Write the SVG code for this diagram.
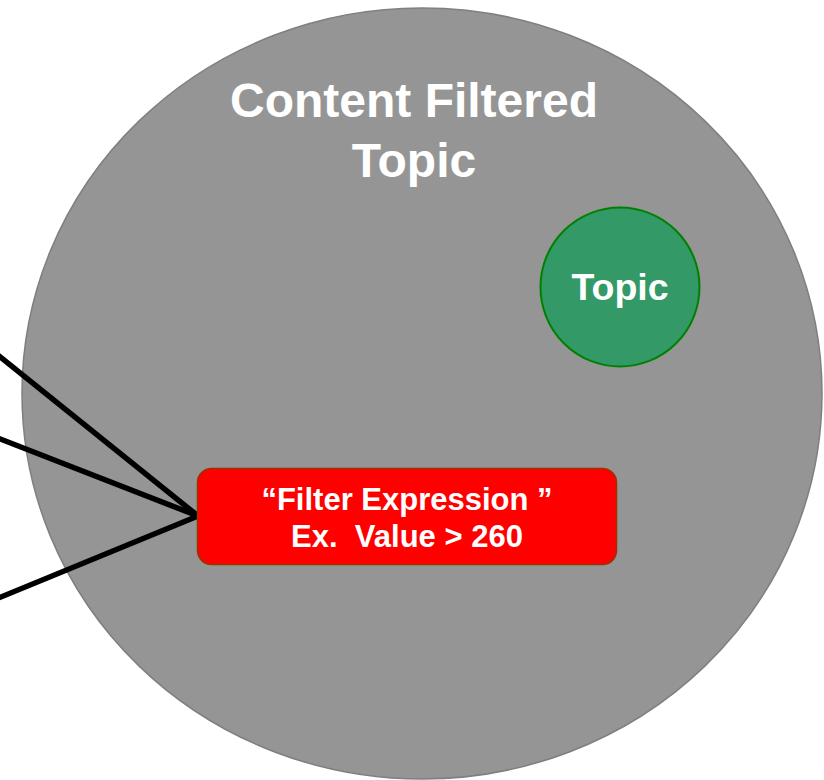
<svg xmlns="http://www.w3.org/2000/svg" width="824" height="780" viewBox="0 0 824 780">
  <style>
    .label { font-family: "Liberation Sans", Arial, sans-serif; font-weight: bold; fill: #ffffff; text-anchor: middle; white-space: pre; }
    .link { stroke: #000000; stroke-width: 5.5; fill: none; stroke-linecap: butt; }
  </style>
  <rect width="824" height="780" fill="#ffffff"/>

  <g id="content-filtered-topic">
    <ellipse cx="422" cy="393.5" rx="400" ry="385.5" fill="#959595" stroke="#7f7f7f" stroke-width="1.5"/>
    <text class="label" x="414" y="117" font-size="48">Content Filtered</text>
    <text class="label" x="414" y="177" font-size="48">Topic</text>
  </g>

  <g id="topic">
    <circle cx="620" cy="287" r="79.5" fill="#339966" stroke="#008000" stroke-width="2"/>
    <text class="label" x="620" y="300" font-size="37.5">Topic</text>
  </g>

  <g id="connectors">
    <line class="link" x1="-10" y1="348.7" x2="198" y2="516"/>
    <line class="link" x1="-10" y1="435" x2="198" y2="516"/>
    <line class="link" x1="-10" y1="601.5" x2="198" y2="516"/>
  </g>

  <g id="filter-expression">
    <rect x="197.5" y="468.5" width="419" height="96" rx="14" ry="14" fill="#ff0000" stroke="#993300" stroke-width="1.5"/>
    <text class="label" x="407" y="510" font-size="31">“Filter Expression ”</text>
    <text class="label" x="407" y="547" font-size="31">Ex.  Value &gt; 260</text>
  </g>
</svg>
